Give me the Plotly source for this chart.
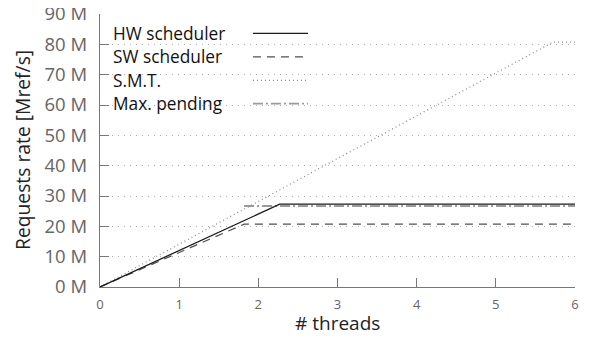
import plotly.graph_objects as go

# Data (requests rate in millions of refs/s vs threads)
hw_x = [0, 2.27, 6]
hw_y = [0, 27.3, 27.3]
sw_x = [0, 1.82, 6]
sw_y = [0, 20.7, 20.7]
smt_x = [0, 5.72, 6]
smt_y = [0, 80.7, 80.7]
mp_x = [1.82, 6]
mp_y = [26.7, 26.7]

series_names = ["HW scheduler", "SW scheduler", "S.M.T.", "Max. pending"]
series_colors = ["#1a1a1a", "#505050", "#888888", "#9a9a9a"]
series_dash = ["solid", "8px,6px", "1px,3px", "10px,3px,2px,3px"]
series_width = [1.3, 1.2, 1.2, 1.8]

x_ticks = [0, 1, 2, 3, 4, 5, 6]
y_ticks = [0, 10, 20, 30, 40, 50, 60, 70, 80, 90]
y_tick_text = [f"{v} M" for v in y_ticks]

FONT = "Open Sans"
fig = go.Figure()

data = [(hw_x, hw_y), (sw_x, sw_y), (smt_x, smt_y), (mp_x, mp_y)]
order = [2, 3, 1, 0]
for i in order:
    xs, ys = data[i]
    fig.add_trace(go.Scatter(x=xs, y=ys, mode="lines", name=series_names[i],
                             line=dict(color=series_colors[i], dash=series_dash[i], width=series_width[i]),
                             showlegend=False, cliponaxis=False))

# manual legend (text left, sample right)
rows = [0.929, 0.843, 0.757, 0.672]
for name, col, d, w, ry in zip(series_names, series_colors, series_dash, series_width, rows):
    fig.add_annotation(xref="paper", yref="paper", x=0.023, y=ry, text=name,
                       showarrow=False, xanchor="left", yanchor="middle",
                       font=dict(family=FONT, size=17.3, color="#111111"))
    fig.add_shape(type="line", xref="paper", yref="paper", x0=0.322, x1=0.438, y0=ry, y1=ry,
                  line=dict(color=col, dash=d, width=w))

# axis titles
fig.add_annotation(xref="paper", yref="paper", x=-0.162, y=0.502, text="Requests rate [Mref/s]",
                   textangle=-90, showarrow=False, xanchor="center", yanchor="middle",
                   font=dict(family=FONT, size=19.3, color="#222222"))
fig.add_annotation(xref="paper", yref="paper", x=0.5, y=-0.131, text="# threads",
                   showarrow=False, xanchor="center", yanchor="middle",
                   font=dict(family=FONT, size=19, color="#222222"))

# page body has an 8px offset; margins compensate
fig.update_layout(
    width=595, height=338,
    margin=dict(l=92, r=28, t=6, b=59, autoexpand=False),
    plot_bgcolor="white", paper_bgcolor="white",
    font=dict(family=FONT, color="#333333"),
)
fig.update_xaxes(range=[0, 6], tickvals=x_ticks, ticks="inside", ticklen=9, tickcolor="#777777",
                 showline=True, linecolor="#777777", linewidth=1.3, showgrid=False, zeroline=False,
                 automargin=False, ticklabelstandoff=5, ticklabeloverflow="allow",
                 tickfont=dict(family=FONT, size=13, color="#666666"))
fig.update_yaxes(range=[0, 90], tickvals=y_ticks, ticktext=y_tick_text, ticks="inside", ticklen=9,
                 tickcolor="#777777", showline=True, linecolor="#777777", linewidth=1.3,
                 showgrid=True, gridcolor="#b0b0b0", gridwidth=1, griddash="1px,5px",
                 zeroline=False, ticklabelstandoff=8, automargin=False, ticklabeloverflow="allow",
                 tickfont=dict(family=FONT, size=18.5, color="#666666"))

fig.write_html("out.html")
